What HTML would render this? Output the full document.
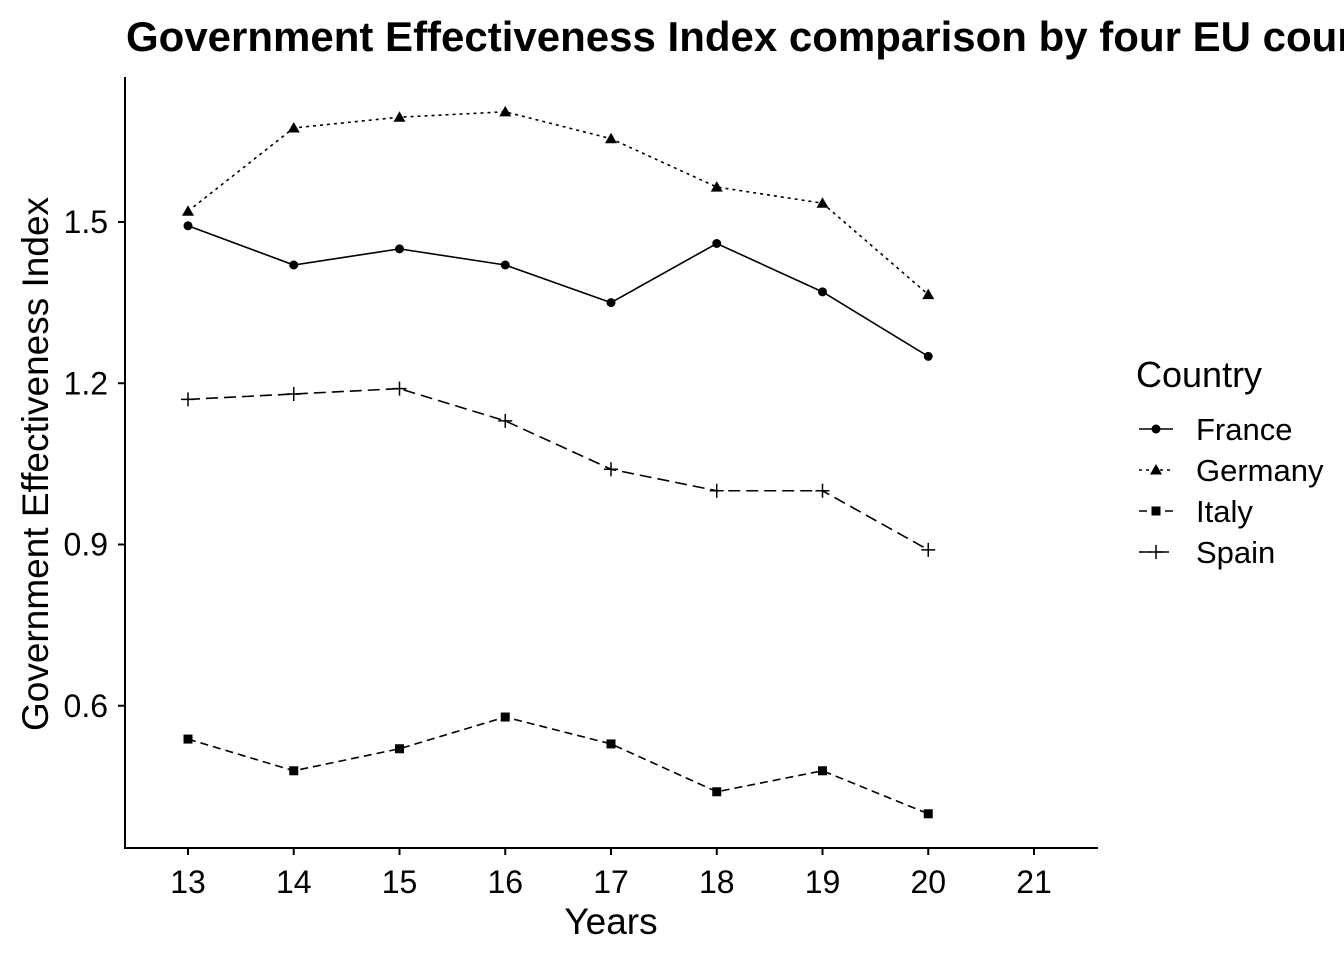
<!DOCTYPE html>
<html><head><meta charset="utf-8"><style>
html,body{margin:0;padding:0;background:#fff;overflow:hidden}
svg{display:block;font-family:"Liberation Sans",Arial,sans-serif}
</style></head><body>
<svg id="chart" width="1344" height="960" viewBox="0 0 1344 960">
<text x="126" y="51" font-size="42" font-weight="bold">Government Effectiveness Index comparison by four EU countries</text>
<line x1="125" y1="77" x2="125" y2="849" stroke="#000" stroke-width="2"/>
<line x1="124" y1="848" x2="1098" y2="848" stroke="#000" stroke-width="2"/>
<text x="611" y="934" font-size="37" text-anchor="middle">Years</text>
<text transform="translate(48,464) rotate(-90)" font-size="37" text-anchor="middle">Government Effectiveness Index</text>
<g id="ticks"></g>
<g id="series"></g>
<g id="legend">
<text x="1136" y="387" font-size="36">Country</text>
</g>
</svg>
<script>
const years=[13,14,15,16,17,18,19,20];
const xTicks=[13,14,15,16,17,18,19,20,21];
const yTicks=[0.6,0.9,1.2,1.5];
const countries=["France","Germany","Italy","Spain"];
const france=[1.493,1.42,1.45,1.42,1.35,1.46,1.37,1.25];
const germany=[1.52,1.675,1.695,1.705,1.655,1.565,1.535,1.365];
const italy=[0.538,0.479,0.52,0.579,0.529,0.44,0.479,0.399];
const spain=[1.17,1.18,1.19,1.13,1.04,1.0,1.0,0.89];

const NS="http://www.w3.org/2000/svg";
const xs=v=>188+(v-13)*105.75;
const ys=v=>222+(1.5-v)*537.5;
function mk(tag,attrs,parent){const e=document.createElementNS(NS,tag);for(const k in attrs)e.setAttribute(k,attrs[k]);parent.appendChild(e);return e;}
const ticks=document.getElementById('ticks');
xTicks.forEach(t=>{
  const l=mk('line',{x1:xs(t),x2:xs(t),y1:848,y2:855,stroke:'#000','stroke-width':2},ticks);
  
  
  const tx=mk('text',{x:xs(t),y:893,'font-size':32,'text-anchor':'middle',fill:'#000'},ticks);
  tx.textContent=t;
  
  
});
yTicks.forEach(t=>{
  const l=mk('line',{x1:118,x2:125,y1:ys(t),y2:ys(t),stroke:'#000','stroke-width':2},ticks);
  
  
  const tx=mk('text',{x:108,y:ys(t)+11,'font-size':32,'text-anchor':'end',fill:'#000'},ticks);
  tx.textContent=t.toFixed(1);
  
  
});
const dashes=["","3,4","8,5","12,6"];
const shapes=["circle","triangle","square","plus"];
function marker(shape,x,y,g){
  let e;
  if(shape==="circle")e=mk('circle',{cx:x,cy:y,r:4.5,fill:'#000'},g);
  else if(shape==="triangle")e=mk('polygon',{points:`${x},${y-6} ${x-6},${y+4.5} ${x+6},${y+4.5}`,fill:'#000'},g);
  else if(shape==="square")e=mk('rect',{x:x-4.5,y:y-4.5,width:9,height:9,fill:'#000'},g);
  else e=mk('path',{d:`M${x-7},${y}H${x+7}M${x},${y-7}V${y+7}`,stroke:'#000','stroke-width':1.5},g);
  return e;
}
const series=document.getElementById('series');
[france,germany,italy,spain].forEach((vals,i)=>{
  const g=mk('g',{},series);
  
  
  const p=mk('polyline',{points:vals.map((v,j)=>xs(years[j])+','+ys(v)).join(' '),fill:'none',stroke:'#000','stroke-width':1.6,'stroke-dasharray':dashes[i]},g);
  
  
  vals.forEach((v,j)=>{
    const m=marker(shapes[i],xs(years[j]),ys(v),g);
    
    
  });
});
const legend=document.getElementById('legend');
countries.forEach((c,i)=>{
  const y=429+i*41;
  const g=mk('g',{},legend);
  
  
  mk('line',{x1:1139,x2:1173,y1:y,y2:y,stroke:'#000','stroke-width':1.6,'stroke-dasharray':dashes[i]},g);
  marker(shapes[i],1156,y,g);
  const t=mk('text',{x:1196,y:y+11,'font-size':31},g);
  t.textContent=c;
});
</script>
</body></html>
